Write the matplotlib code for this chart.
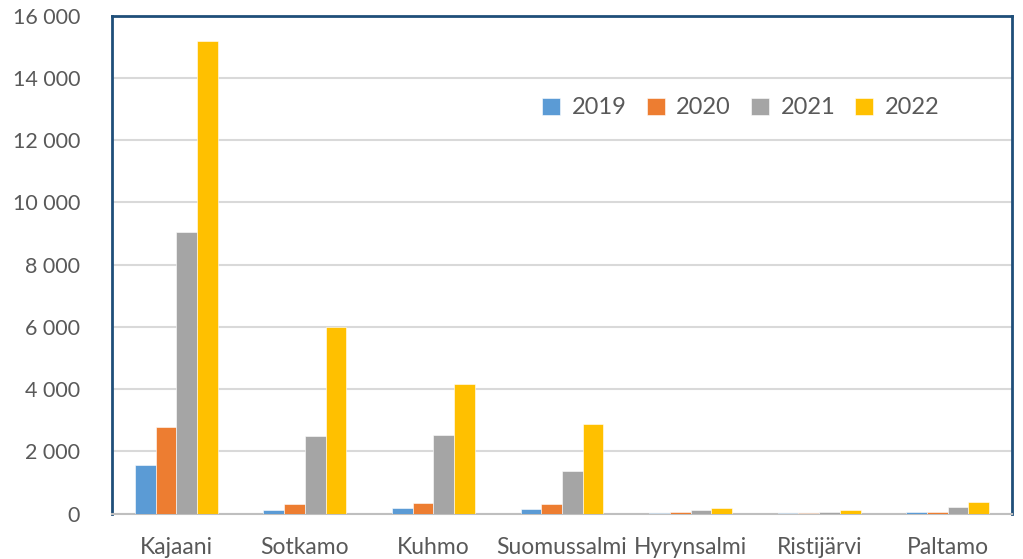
import matplotlib
matplotlib.use("Agg")
import matplotlib.pyplot as plt
import numpy as np

categories = ["Kajaani", "Sotkamo", "Kuhmo", "Suomussalmi", "Hyrynsalmi", "Ristijärvi", "Paltamo"]
years = ["2019", "2020", "2021", "2022"]
v2019 = [1560, 110, 190, 160, 30, 10, 55]
v2020 = [2800, 300, 345, 300, 55, 20, 55]
v2021 = [9060, 2490, 2530, 1370, 120, 55, 225]
v2022 = [15180, 5980, 4180, 2890, 175, 120, 375]
series = [v2019, v2020, v2021, v2022]
colors = ["#5B9BD5", "#ED7D31", "#A5A5A5", "#FFC000"]
yticks = [0, 2000, 4000, 6000, 8000, 10000, 12000, 14000, 16000]

plt.rcParams['font.family'] = ['Lato', 'DejaVu Sans']
txt = "#595959"

fig = plt.figure(figsize=(10.23, 5.59), dpi=100)
ax = fig.add_axes([112/1023, 1-513.7/559, 900/1023, (513.7-15.5)/559])

x = np.arange(len(categories))
w = 0.161
for i, (vals, c, lab) in enumerate(zip(series, colors, years)):
    ax.bar(x + (i - 1.5) * w, vals, w, color=c, label=lab, zorder=3,
           edgecolor="white", linewidth=0.4)

ax.set_xlim(-0.5, len(categories) - 0.5)
ax.set_ylim(0, 16000)
ax.set_yticks(yticks)
ax.set_yticklabels([f"{t:,}".replace(",", " ") for t in yticks], fontsize=15.5, color=txt)
ax.set_xticks(x)
ax.set_xticklabels(categories, fontsize=16.5, color=txt)
ax.tick_params(axis='both', length=0)
ax.tick_params(axis='x', pad=17)
ax.tick_params(axis='y', pad=23)

ax.grid(axis='y', color="#D9D9D9", linewidth=1.5, zorder=0)
ax.set_axisbelow(True)
for s in ["left", "top", "right"]:
    ax.spines[s].set_color("#1F4E79")
    ax.spines[s].set_linewidth(2)
ax.spines["bottom"].set_color("#BFBFBF")
ax.spines["bottom"].set_linewidth(1.5)

leg = ax.legend(loc="center", bbox_to_anchor=(741/1023, 1-108/559), bbox_transform=fig.transFigure,
                ncol=4, frameon=False, fontsize=17, handlelength=0.75, handleheight=0.75,
                handletextpad=0.5, columnspacing=0.85)
for t in leg.get_texts():
    t.set_color(txt)

fig.savefig("out.png", dpi=100)
